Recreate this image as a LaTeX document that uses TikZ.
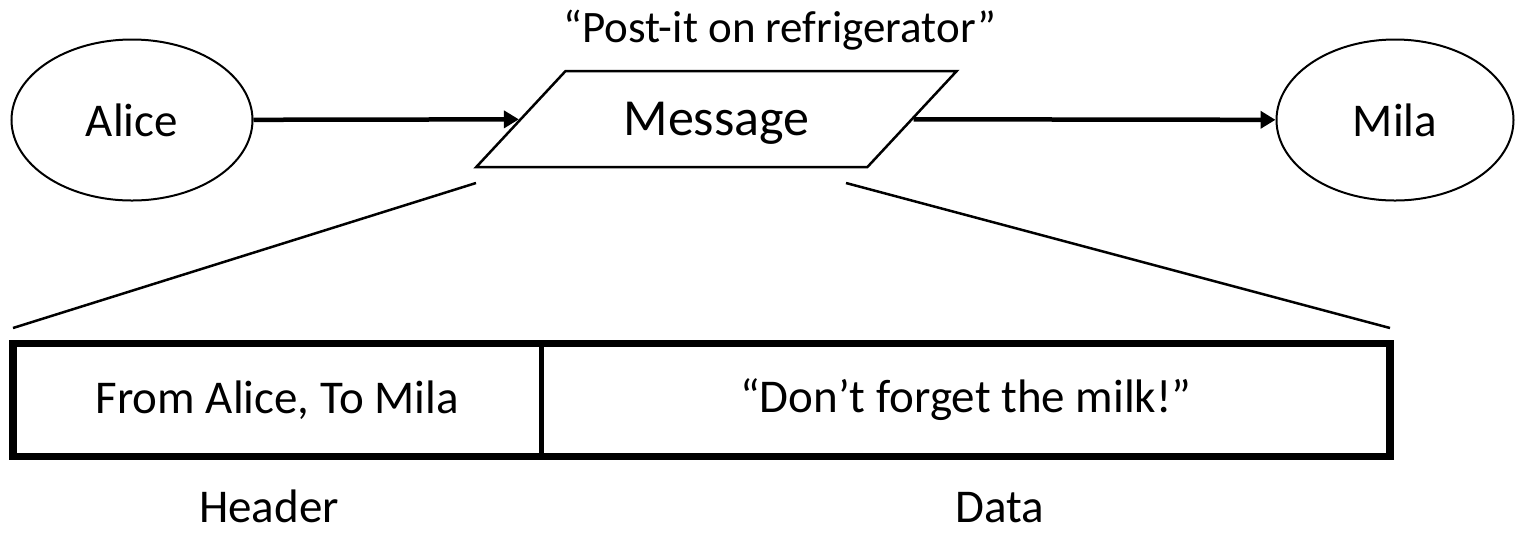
\documentclass[tikz,border=0pt]{standalone}
\usepackage{fontspec}
\setmainfont{Carlito}
\usetikzlibrary{arrows.meta, positioning, shapes.geometric, calc}

\begin{document}
\begin{tikzpicture}[
    x=0.5pt, y=-0.5pt,
    >={Triangle[length=7.5pt, width=8.5pt]},
    node distance=2em and 4em,
    party/.style={draw, ellipse, line width=1pt, minimum height=80.5pt, inner sep=0pt, font=\fontsize{23.5}{28}\selectfont},
    msgbox/.style={draw, trapezium, trapezium left angle=38.4, trapezium right angle=141.6, trapezium stretches=true, minimum width=240.5pt, minimum height=48pt, text depth=0pt, line width=1.25pt, font=\fontsize{26}{30}\selectfont},
    cell/.style={rectangle, minimum height=56pt, inner sep=0pt, font=\fontsize{23.5}{28}\selectfont},
    txt/.style={inner sep=0pt, anchor=base, font=\fontsize{23.5}{28}\selectfont},
    arrow/.style={->, line width=2.25pt},
    zoomline/.style={line width=1.25pt},
    frame/.style={line width=3.75pt},
    divider/.style={line width=2.75pt}
]
\useasboundingbox (0,0) rectangle (1516,532);

% Sender, note and receiver
\node[party, minimum width=120.5pt] (alice) at (132,120) {Alice};
\node[msgbox] (msg) at (716.5,119) {Message};
\node[party, minimum width=118.5pt] (mila) at (1395,120) {Mila};
\node[txt, font=\fontsize{22.5}{27}\selectfont] (postit) at (780,42) {“Post-it on refrigerator”};

\draw[arrow] (alice) -- (msg);
\draw[arrow] (msg) -- (mila);

% Message layout
\node[cell, minimum width=263.75pt] (hdr) at (277.25,400) {From Alice, To Mila};
\node[cell, minimum width=424pt, right=0pt of hdr] (dat) {“Don’t forget the milk!”};
\draw[frame] (hdr.north west) rectangle (dat.south east);
\draw[divider] (hdr.north east) -- (hdr.south east);

\node[txt] (hdrname) at (269,522) {Header};
\node[txt] (datname) at (1000,522) {Data};

% Zoom lines
\coordinate (zlt) at (476,183);
\coordinate (zlb) at (13,328);
\coordinate (zrt) at (846,183);
\coordinate (zrb) at (1390,328);
\draw[zoomline] (zlt) -- (zlb);
\draw[zoomline] (zrt) -- (zrb);

\end{tikzpicture}
\end{document}
